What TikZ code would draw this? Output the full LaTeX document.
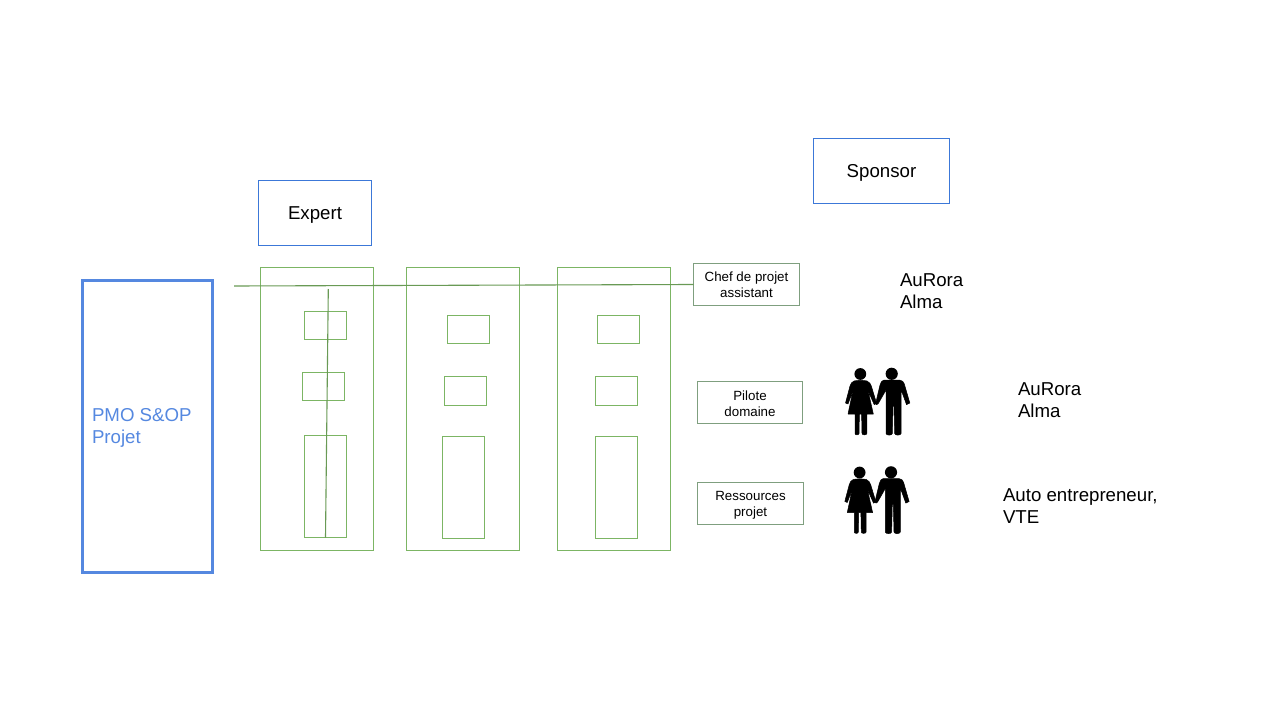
\documentclass[tikz,border=0pt]{standalone}
\usepackage{fontspec}
\setmainfont{Liberation Sans}
\definecolor{grn}{HTML}{7CB564}
\definecolor{blu}{HTML}{3C78D8}
\definecolor{pmo}{HTML}{5588E0}
\definecolor{gry}{HTML}{7F9F7F}
\newcommand{\fsbig}{\fontsize{18.67}{22}\selectfont}
\newcommand{\fssmall}{\fontsize{13.33}{16}\selectfont}
\newcommand{\bx}[6][grnbox]{\node[#1,minimum width=#5-#3,minimum height=#6-#4] (#2) at ({(#3+#5)/2},{(#4+#6)/2}) {};}
\tikzset{
  x=1pt,y=-1pt,
  grnbox/.style={draw=grn,line width=1.1pt,inner sep=0pt,outer sep=0pt},
  glink/.style={draw=grn!85!black,line width=1.1pt},
  bluebox/.style={draw=blu,line width=0.9pt,inner sep=0pt,outer sep=0pt,align=center,font=\fsbig},
  rolebox/.style={draw=gry,line width=0.9pt,inner sep=0pt,outer sep=0pt},
  rolelabel/.style={inner sep=0pt,outer sep=0pt,align=center,font=\fssmall},
  plain/.style={inner sep=0pt,outer sep=0pt,align=left,anchor=west,font=\fsbig},
  figure/.style={fill=black,draw=black,line width=0.5pt,line join=round},
}
\newcommand{\couple}[2]{%
\begin{scope}[shift={(#1,#2)}]
  % woman
  \fill[black] (860.3,374) circle[radius=5.9];
  \path[figure] (854,381) .. controls (857,380.2) and (864,380.2) .. (867,381)
    .. controls (869.5,382) and (870.5,384) .. (871.3,386)
    -- (876.6,403.5) -- (874.2,404.6) -- (868,390.5)
    -- (873.3,414) -- (866.8,414) -- (866.8,433.5)
    .. controls (866.8,435.3) and (862,435.3) .. (862,433.5)
    -- (861.6,414) -- (859.4,414) -- (859,433.5)
    .. controls (859,435.3) and (855,435.3) .. (855,433.5)
    -- (855,414) -- (848,414) -- (853,390.5)
    -- (848,404) -- (845.5,403) -- (850,386)
    .. controls (850.7,383.5) and (851.8,382) .. (854,381) -- cycle;
  % man
  \fill[black] (891.7,373.8) circle[radius=6.1];
  \path[figure] (884,380) -- (899.5,380)
    .. controls (902.5,380.3) and (903.5,382) .. (904.3,384)
    -- (909.8,403) -- (906.5,404.6) -- (901,389.5)
    -- (901,433.5) .. controls (901,435.6) and (894.7,435.6) .. (894.7,433.5)
    -- (894,406) -- (893,406) -- (892.3,433.5)
    .. controls (892.3,435.6) and (886,435.6) .. (886,433.5)
    -- (886,390) -- (878.3,403.5)
    .. controls (877.5,405) and (875.8,405) .. (875.6,403.6)
    -- (880,385) .. controls (880.8,382) and (882,380.4) .. (884,380) -- cycle;
\end{scope}}
\begin{document}
\begin{tikzpicture}
\useasboundingbox (0,0) rectangle (1279,719);
% PMO
\node[draw=pmo,line width=2.4pt,inner sep=0pt,outer sep=0pt,minimum width=130,minimum height=292] (pmo) at (147.5,426.5) {};
\node[plain,text=pmo] (pmot) at (92,428) {PMO S\&OP\\Projet};
% blue boxes
\node[bluebox,minimum width=113,minimum height=65] (expert) at (315,213) {};
\node[inner sep=0pt,font=\fsbig] (expertt) at (315,215.5) {Expert};
\node[bluebox,minimum width=136,minimum height=65] (sponsor) at (881.5,171) {};
\node[inner sep=0pt,font=\fsbig] (sponsort) at (881.5,172.5) {Sponsor};
% columns
\bx{col1}{260.5}{267.5}{373.5}{550.5}
\bx{col2}{406.5}{267.5}{519.5}{550.5}
\bx{col3}{557.5}{267.5}{670.5}{550.5}
\bx{a1}{304.5}{311.5}{346.5}{339.5}
\bx{a2}{302.5}{372.5}{344.5}{400.5}
\bx{a3}{304.5}{435.5}{346.5}{537.5}
\bx{b1}{447.5}{315.5}{489.5}{343.5}
\bx{b2}{444.5}{376.5}{486.5}{405.5}
\bx{b3}{442.5}{436.5}{484.5}{538.5}
\bx{c1}{597.5}{315.5}{639.5}{343.5}
\bx{c2}{595.5}{376.5}{637.5}{405.5}
\bx{c3}{595.5}{436.5}{637.5}{538.5}
% role boxes
\node[rolebox,minimum width=106,minimum height=42] (chef) at (746.5,284.5) {};
\node[rolelabel] (cheft) at (746.5,284.3) {Chef de projet\\assistant};
\node[rolebox,minimum width=105,minimum height=42] (pilote) at (750,402.5) {};
\node[rolelabel] (pilotet) at (750,403.3) {Pilote\\domaine};
\node[rolebox,minimum width=106,minimum height=42] (res) at (750.5,503.5) {};
\node[rolelabel] (rest) at (750.5,504.8) {Ressources\\projet};
% lines
\coordinate (lstart) at (234,286);
\coordinate (vtop) at (328.3,289);
\coordinate (vbot) at (325.5,537.5);
\draw[glink] (lstart) -- (chef.west);
\draw[glink] (vtop) -- (vbot);
% people
\couple{0}{0}
\couple{-0.7}{98.5}
% texts
\node[plain] (t1) at (900,291.5) {AuRora\\Alma};
\node[plain] (t2) at (1018,400.2) {AuRora\\Alma};
\node[plain] (t3) at (1003,506.5) {Auto entrepreneur,\\VTE};
\end{tikzpicture}
\end{document}
